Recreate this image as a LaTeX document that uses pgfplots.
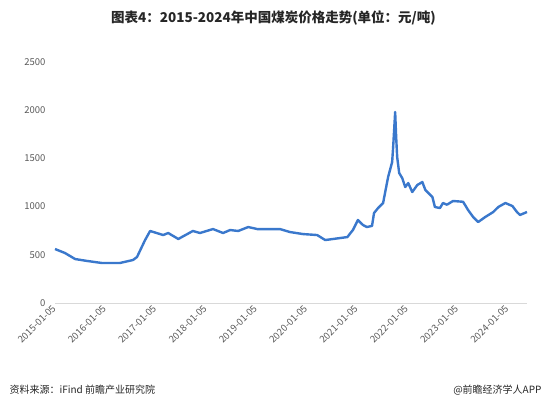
\documentclass[border=0pt]{standalone}
\usepackage{pgfplots}
\pgfplotsset{compat=1.18}
\usepackage{fontspec}
\setmainfont{Noto Sans CJK SC}
\definecolor{lineblue}{RGB}{58,120,204}
\definecolor{ticktxt}{RGB}{89,89,89}
\definecolor{titletxt}{RGB}{38,38,38}
\begin{document}
\begin{tikzpicture}[x=1pt,y=1pt]
\path[use as bounding box] (0,0) rectangle (547,410);
\node[font=\fontsize{13.5}{15}\selectfont\bfseries, text=titletxt] at (273.5,392) {图表4：2015-2024年中国煤炭价格走势(单位：元/吨)};
\begin{axis}[
  at={(55pt,107pt)}, anchor=south west,
  scale only axis, width=472pt, height=241pt,
  xmin=2015, xmax=2024.38, ymin=0, ymax=2500,
  axis x line*=bottom, axis y line*=left,
  x axis line style={draw=black!15, line width=0.8pt, -},
  y axis line style={draw=none},
  xtick={2015,2016,2017,2018,2019,2020,2021,2022,2023,2024},
  xticklabels={2015-01-05,2016-01-05,2017-01-05,2018-01-05,2019-01-05,2020-01-05,2021-01-05,2022-01-05,2023-01-05,2024-01-05},
  ytick={0,500,1000,1500,2000,2500},
  major tick length=0pt,
  /pgf/number format/assume math mode=true,
  /pgf/number format/1000 sep={},
  tick label style={font=\fontsize{9.5}{10}\selectfont, text=ticktxt},
  xticklabel style={rotate=45, anchor=east, yshift=-2pt},
  yticklabel style={xshift=-6pt},
  clip=false,
]
\addplot[lineblue, line width=2.4pt, line join=round] coordinates {
(2015.00,560) (2015.20,518) (2015.40,456) (2015.64,436) (2015.93,415)
(2016.29,415) (2016.55,446) (2016.63,477) (2016.79,653) (2016.89,747)
(2017.15,705) (2017.25,726) (2017.45,664) (2017.74,747) (2017.88,726)
(2018.14,767) (2018.34,726) (2018.48,757) (2018.64,747) (2018.84,788)
(2019.02,767) (2019.47,767) (2019.67,736) (2019.93,715) (2020.21,705)
(2020.37,653) (2020.81,684) (2020.92,757) (2021.02,861) (2021.12,809)
(2021.20,788) (2021.30,800) (2021.34,933) (2021.42,985) (2021.52,1037)
(2021.62,1307) (2021.70,1462) (2021.72,1618) (2021.76,1981) (2021.78,1721)
(2021.80,1514) (2021.84,1348) (2021.90,1296) (2021.96,1203) (2022.02,1244)
(2022.10,1151) (2022.20,1224) (2022.30,1255) (2022.36,1172) (2022.50,1099)
(2022.55,996) (2022.65,985) (2022.71,1037) (2022.79,1020) (2022.91,1058)
(2023.11,1050) (2023.21,964) (2023.31,892) (2023.41,840) (2023.55,892)
(2023.71,944) (2023.81,996) (2023.95,1037) (2024.09,1006) (2024.18,944)
(2024.24,913) (2024.38,944)
};
\end{axis}
\node[anchor=west, font=\fontsize{10}{12}\selectfont, text=titletxt] at (6,20) {资料来源：iFind 前瞻产业研究院};
\node[anchor=east, font=\fontsize{10}{12}\selectfont, text=titletxt] at (545,20) {@前瞻经济学人APP};
\end{tikzpicture}
\end{document}
